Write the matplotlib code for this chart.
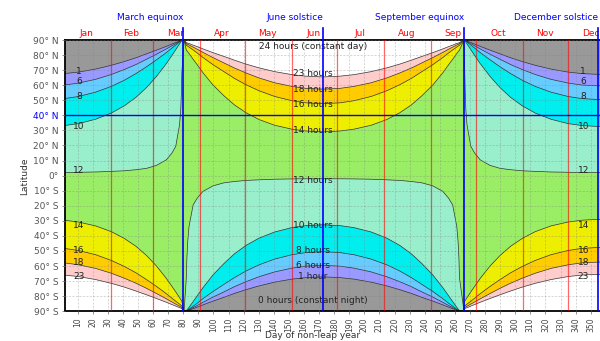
import numpy as np
import matplotlib.pyplot as plt

# contour latitudes, in three stretches of the year
# Jan 1 -> March equinox
days_a = [1, 10.5, 21.9, 32.3, 40.9, 48.6, 55.6, 62.3, 68.8, 72.5, 75.0, 77.5, 78.3, 78.8, 79.0, 80.5]
a_n1 = [67.7, 68.7, 70.7, 73.2, 75.7, 78.2, 80.8, 83.3, 85.8, 87.3, 88.3, 89.3, 89.6, 89.8, 89.9, 90]
a_n6 = [60.1, 61.4, 63.9, 67.1, 70.4, 73.7, 77.2, 80.6, 84.1, 86.2, 87.6, 89.0, 89.5, 89.8, 89.9, 90]
a_n8 = [51.1, 52.5, 55.4, 59.2, 63.3, 67.7, 72.2, 76.9, 81.7, 84.7, 86.7, 88.7, 89.3, 89.7, 89.9, 90]
a_n10 = [33.2, 34.5, 37.4, 41.5, 46.3, 51.9, 58.4, 65.9, 74.4, 79.8, 83.6, 87.4, 88.6, 89.3, 89.7, 90]
a_n12 = [2.1, 2.2, 2.4, 2.8, 3.2, 3.9, 4.8, 6.8, 10.5, 15.0, 19.5, 33.7, 44.0, 56.4, 67.8, 90]
a_s14 = [-29.6, -30.8, -33.4, -37.2, -41.7, -46.9, -53.0, -60.1, -68.3, -73.6, -77.2, -81.0, -82.2, -82.9, -83.3, -90]
a_s16 = [-48.3, -49.7, -52.5, -56.3, -60.3, -64.5, -69.0, -73.6, -78.4, -81.4, -83.4, -85.3, -85.9, -86.3, -86.5, -90]
a_s18 = [-57.9, -59.2, -61.6, -64.8, -68.1, -71.4, -74.8, -78.3, -81.8, -83.9, -85.3, -86.7, -87.1, -87.4, -87.6, -90]
a_s23 = [-66.0, -67.0, -69.0, -71.5, -74.0, -76.6, -79.1, -81.6, -84.1, -85.6, -86.6, -87.7, -87.9, -88.2, -88.3, -90]

# March equinox -> September equinox
days_b = [80.5, 82.0, 82.3, 82.9, 83.8, 86.5, 89.2, 93.0, 99.7, 106.9, 113.9, 121.6, 130.2, 140.6, 152.0, 161.2,
          172.5, 183.8, 193.0, 204.4, 214.8, 223.4, 231.1, 238.1, 245.3, 252.0, 255.8, 258.5, 261.2, 262.1, 262.7, 263.0, 266]
b_n14 = [90, 83.3, 82.9, 82.2, 81.0, 77.2, 73.6, 68.3, 60.1, 53.0, 46.9, 41.7, 37.2, 33.4, 30.8, 29.6,
         29.0, 29.6, 30.8, 33.4, 37.2, 41.7, 46.9, 53.0, 60.1, 68.3, 73.6, 77.2, 81.0, 82.2, 82.9, 83.3, 90]
b_n16 = [90, 86.5, 86.3, 85.9, 85.3, 83.4, 81.4, 78.4, 73.6, 69.0, 64.5, 60.3, 56.3, 52.5, 49.7, 48.3,
         47.7, 48.3, 49.7, 52.5, 56.3, 60.3, 64.5, 69.0, 73.6, 78.4, 81.4, 83.4, 85.3, 85.9, 86.3, 86.5, 90]
b_n18 = [90, 87.6, 87.4, 87.1, 86.7, 85.3, 83.9, 81.8, 78.3, 74.8, 71.4, 68.1, 64.8, 61.6, 59.2, 57.9,
         57.4, 57.9, 59.2, 61.6, 64.8, 68.1, 71.4, 74.8, 78.3, 81.8, 83.9, 85.3, 86.7, 87.1, 87.4, 87.6, 90]
b_n23 = [90, 88.3, 88.2, 87.9, 87.7, 86.6, 85.6, 84.1, 81.6, 79.1, 76.6, 74.0, 71.5, 69.0, 67.0, 66.0,
         65.5, 66.0, 67.0, 69.0, 71.5, 74.0, 76.6, 79.1, 81.6, 84.1, 85.6, 86.6, 87.7, 87.9, 88.2, 88.3, 90]
b_s12 = [-90, -67.8, -56.4, -44.0, -33.7, -19.5, -15.0, -10.5, -6.8, -4.8, -3.9, -3.2, -2.8, -2.4, -2.2, -2.1,
         -2.1, -2.1, -2.2, -2.4, -2.8, -3.2, -3.9, -4.8, -6.8, -10.5, -15.0, -19.5, -33.7, -44.0, -56.4, -67.8, -90]
b_s10 = [-90, -89.7, -89.3, -88.6, -87.4, -83.6, -79.8, -74.4, -65.9, -58.4, -51.9, -46.3, -41.5, -37.4, -34.5, -33.2,
         -32.6, -33.2, -34.5, -37.4, -41.5, -46.3, -51.9, -58.4, -65.9, -74.4, -79.8, -83.6, -87.4, -88.6, -89.3, -89.7, -90]
b_s8 = [-90, -89.9, -89.7, -89.3, -88.7, -86.7, -84.7, -81.7, -76.9, -72.2, -67.7, -63.3, -59.2, -55.4, -52.5, -51.1,
        -50.5, -51.1, -52.5, -55.4, -59.2, -63.3, -67.7, -72.2, -76.9, -81.7, -84.7, -86.7, -88.7, -89.3, -89.7, -89.9, -90]
b_s6 = [-90, -89.9, -89.8, -89.5, -89.0, -87.6, -86.2, -84.1, -80.6, -77.2, -73.7, -70.4, -67.1, -63.9, -61.4, -60.1,
        -59.6, -60.1, -61.4, -63.9, -67.1, -70.4, -73.7, -77.2, -80.6, -84.1, -86.2, -87.6, -89.0, -89.5, -89.8, -89.9, -90]
b_s1 = [-90, -89.9, -89.8, -89.6, -89.3, -88.3, -87.3, -85.8, -83.3, -80.8, -78.2, -75.7, -73.2, -70.7, -68.7, -67.7,
        -67.2, -67.7, -68.7, -70.7, -73.2, -75.7, -78.2, -80.8, -83.3, -85.8, -87.3, -88.3, -89.3, -89.6, -89.8, -89.9, -90]

# September equinox -> Dec 31
days_c = [266, 266.5, 266.8, 267.2, 268.0, 270.5, 273.0, 276.7, 283.2, 289.9, 296.9, 304.6, 313.2, 323.6, 335.0, 344.2, 355.0, 365.0]
c_n1 = [90, 89.9, 89.8, 89.6, 89.3, 88.3, 87.3, 85.8, 83.3, 80.8, 78.2, 75.7, 73.2, 70.7, 68.7, 67.7, 67.2, 67.6]
c_n6 = [90, 89.9, 89.8, 89.5, 89.0, 87.6, 86.2, 84.1, 80.6, 77.2, 73.7, 70.4, 67.1, 63.9, 61.4, 60.1, 59.6, 60.0]
c_n8 = [90, 89.9, 89.7, 89.3, 88.7, 86.7, 84.7, 81.7, 76.9, 72.2, 67.7, 63.3, 59.2, 55.4, 52.5, 51.1, 50.5, 51.0]
c_n10 = [90, 89.7, 89.3, 88.6, 87.4, 83.6, 79.8, 74.4, 65.9, 58.4, 51.9, 46.3, 41.5, 37.4, 34.5, 33.2, 32.6, 33.1]
c_n12 = [90, 67.8, 56.4, 44.0, 33.7, 19.5, 15.0, 10.5, 6.8, 4.8, 3.9, 3.2, 2.8, 2.4, 2.2, 2.1, 2.1, 2.1]
c_s14 = [-90, -83.3, -82.9, -82.2, -81.0, -77.2, -73.6, -68.3, -60.1, -53.0, -46.9, -41.7, -37.2, -33.4, -30.8, -29.6, -29.0, -29.5]
c_s16 = [-90, -86.5, -86.3, -85.9, -85.3, -83.4, -81.4, -78.4, -73.6, -69.0, -64.5, -60.3, -56.3, -52.5, -49.7, -48.3, -47.7, -48.2]
c_s18 = [-90, -87.6, -87.4, -87.1, -86.7, -85.3, -83.9, -81.8, -78.3, -74.8, -71.4, -68.1, -64.8, -61.6, -59.2, -57.9, -57.4, -57.8]
c_s23 = [-90, -88.3, -88.2, -87.9, -87.7, -86.6, -85.6, -84.1, -81.6, -79.1, -76.6, -74.0, -71.5, -69.0, -67.0, -66.0, -65.5, -65.9]

months = ['Jan', 'Feb', 'Mar', 'Apr', 'May', 'Jun', 'Jul', 'Aug', 'Sep', 'Oct', 'Nov', 'Dec']
month_mid = [16, 45.5, 75, 105.5, 136, 166.5, 197, 228, 258.5, 289, 319.5, 350]
month_start = [32, 60, 91, 121, 152, 182, 213, 244, 274, 305, 335]
events = ['March equinox', 'June solstice', 'September equinox', 'December solstice']
event_day = [80, 172.5, 266, 355]

lat_ticks = list(range(-90, 91, 10))
lat_labels = ['%d° S' % -v if v < 0 else ('%d° N' % v if v > 0 else '0°') for v in lat_ticks]
day_ticks = list(range(10, 351, 10))

# colours of the band on the polar side of each contour
col = {'1': '#999999', '6': '#9999ff', '8': '#66ccff', '10': '#00eeee', '12': '#99eecc',
       '14': '#eeee00', '16': '#ffcc00', '18': '#ffcccc', '23': '#ffffff'}
green = '#99ee66'

fig = plt.figure(figsize=(6, 3.41), dpi=100)
ax = fig.add_axes([65 / 600, 29.8 / 341, 548.4 / 600, 271.2 / 341])
ax.set_facecolor(green)


def band(days, lats, edge, c):
    x = list(days) + [days[-1], days[0]]
    y = list(lats) + [edge, edge]
    ax.fill(x, y, color=c, lw=0, zorder=1)
    ax.plot(days, lats, color='#333333', lw=0.5, zorder=1.5)


# north winter side: Jan-Mar and Sep-Dec, with the southern summer below
for k, la, lc in zip(['12', '10', '8', '6', '1'],
                     [a_n12, a_n10, a_n8, a_n6, a_n1], [c_n12, c_n10, c_n8, c_n6, c_n1]):
    band(days_a, la, 90, col[k])
    band(days_c, lc, 90, col[k])
for k, la, lc in zip(['14', '16', '18', '23'],
                     [a_s14, a_s16, a_s18, a_s23], [c_s14, c_s16, c_s18, c_s23]):
    band(days_a, la, -90, col[k])
    band(days_c, lc, -90, col[k])

# northern summer / southern winter
for k, lat in zip(['14', '16', '18', '23'], [b_n14, b_n16, b_n18, b_n23]):
    band(days_b, lat, 90, col[k])
for k, lat in zip(['12', '10', '8', '6', '1'], [b_s12, b_s10, b_s8, b_s6, b_s1]):
    band(days_b, lat, -90, col[k])

ax.set_xlim(1.6, 365)
ax.set_ylim(-90, 90)
ax.set_xticks(day_ticks)
ax.set_xticklabels([str(v) for v in day_ticks], rotation=90, fontsize=5.5, color='#444444')
ax.set_yticks(lat_ticks)
ax.set_yticklabels(lat_labels, fontsize=6.5, color='#555555')
ax.get_yticklabels()[13].set_color('blue')
ax.tick_params(length=2.5, width=0.5, pad=2, color='#666666')
ax.grid(True, color='#808080', alpha=0.45, lw=0.5, linestyle=(0, (3, 2)))
ax.set_axisbelow(False)
for s in ['left', 'bottom', 'top']:
    ax.spines[s].set_linewidth(1.3)
ax.spines['right'].set_visible(False)

for d in month_start:
    ax.axvline(d, color='red', lw=0.9, alpha=0.6, zorder=3)
for d in event_day:
    ax.plot([d, d], [-90, 98], color='blue', lw=1.2, clip_on=False, zorder=4)
ax.axhline(40, color='blue', lw=1.0, zorder=4)

for m, d in zip(months, month_mid):
    ax.text(d, 94.5, m, color='red', fontsize=6.5, ha='center', va='center', clip_on=False)
for e, d in zip(events, event_day):
    ax.text(d, 105, e, color='blue', fontsize=6.5, ha='right', va='center', clip_on=False)

# contour labels at both sides and along the June solstice
side = [('1', 69.3), ('6', 62.5), ('8', 52.5), ('10', 32.5), ('12', 3.6),
        ('14', -32.8), ('16', -49.4), ('18', -57.5), ('23', -67.0)]
for t, y in side:
    ax.text(10.9, y, t, fontsize=6.5, ha='center', va='center', color='#222222')
    ax.text(345, y, t, fontsize=6.5, ha='center', va='center', color='#222222')

mid = [('24 hours (constant day)', 85.9), ('23 hours', 67.8), ('18 hours', 57.4), ('16 hours', 47.2),
       ('14 hours', 30.2), ('12 hours', -3.0), ('10 hours', -32.8), ('8 hours', -49.9),
       ('6 hours', -59.4), ('1 hour', -67.1), ('0 hours (constant night)', -83.2)]
for t, y in mid:
    ax.text(166, y, t, fontsize=6.5, ha='center', va='center', color='#222222')

fig.text(313 / 600, 1 - 335 / 341, 'Day of non-leap year', fontsize=6.5, ha='center', va='center', color='#333333')
fig.text(25 / 600, 1 - 176 / 341, 'Latitude', fontsize=6.5, ha='center', va='center', rotation=90, color='#333333')

fig.savefig('out.png', dpi=100)
